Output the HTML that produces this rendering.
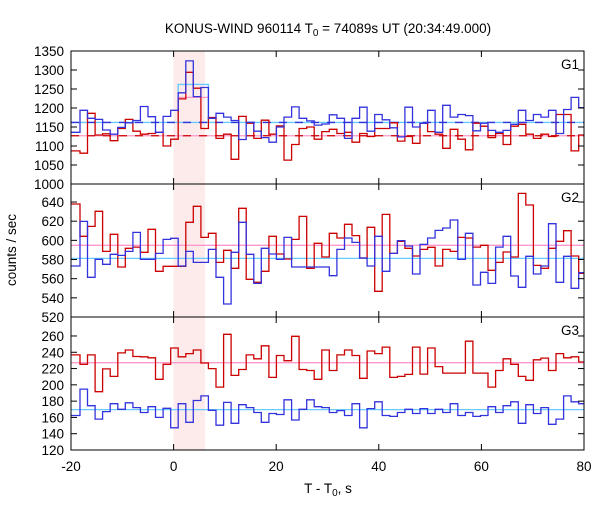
<!DOCTYPE html>
<html><head><meta charset="utf-8"><style>
body{margin:0;background:#fff;font-family:"Liberation Sans",sans-serif}
svg text{font-family:"Liberation Sans",sans-serif;font-size:13.5px;fill:#000}
</style></head><body>
<svg id="c" width="600" height="500"></svg>
<script>
const g1Blue=[1136,1194,1173,1170,1142,1131,1149,1161,1167,1204,1177,1136,1178,1194,1240,1324,1230,1254,1173,1186,1176,1167,1117,1162,1139,1122,1110,1150,1176,1203,1173,1166,1155,1158,1182,
1173,1120,1173,1202,1139,1183,1169,1148,1124,1202,1150,1160,1194,1136,1207,1176,1183,1180,1140,1160,1141,1136,1141,1157,1194,1167,1183,1176,1194,1133,1196,1228,1201];
const g1Red=[1087,1081,1186,1129,1132,1114,1146,1170,1139,1131,1133,1136,1100,1118,1224,1294,1252,1146,1175,1120,1131,1065,1178,1160,1120,1168,1131,1153,1063,1104,1146,1150,1118,1138,1144,
1133,1136,1110,1133,1125,1146,1146,1161,1113,1125,1107,1160,1138,1131,1094,1144,1118,1090,1160,1152,1122,1133,1104,1152,1157,1131,1120,1131,1125,1183,1183,1087,1129];
const g2Red=[637.9,604.2,614.6,630.3,588.5,606.3,572.2,591.7,593,587.5,611.5,567.7,572.9,572.9,572.9,618.8,635.5,603.1,607.3,577,589.6,570.8,633.4,559.3,556.2,567.7,604.2,585.7,580.5,601,625,570.8,596.9,582.6,607.3,
602.4,616.7,604.9,581.6,613.6,546.8,627.1,586.4,599,591.7,583.7,590.6,592.7,573.2,590.6,588.5,603.1,602.4,593,594.8,568.7,577,587.8,582.6,649,636.9,573.9,570.8,591.7,599,610.1,583.7,565.6];
const g2Blue=[573.2,619.8,561.4,580.2,575,585.4,584.3,588.5,608.3,580.2,580.2,586.4,601,602.1,573.2,588.5,577,577,590.6,561.4,533.6,587.5,618.8,585.4,555.1,591.7,585.7,580.2,603.1,572.2,572.2,572.2,572.2,572.2,563.1,
590.6,602.4,597.9,581.6,573.2,604.2,567.7,586.4,599.7,594.1,564.9,595.8,602.4,610.4,612.9,621.2,580.2,607.3,553.4,566.6,555.1,593,604.2,562.8,551,583.3,564.9,573.2,617.4,556.2,583.3,549.9,566.3];
const g3Red=[236.8,225.2,236.8,191.6,219.6,210.4,239.2,242.8,234.8,234.4,233.2,206.8,225.2,245.2,234.4,238.4,242.8,226.8,220,197.2,262,211.6,218.8,236.8,232,248,209.2,236,229.6,259.6,218.8,217.6,206.8,242.8,217.6,
236.8,242.8,236,208,241.6,238.4,246.4,209.2,210.4,212.8,246.4,213.2,245.2,222.4,214.4,214.4,214.4,253.6,214.4,214.4,197.2,217.6,232,225.2,210.4,205.6,230.8,232.8,217.6,238.4,233.2,234.4,228];
const g3Blue=[162.4,194.8,174.4,158,167.2,176.8,170,178,172,166,173.2,160,171.2,147.2,176.8,154,180.8,186.4,168.8,150.4,178.4,152.8,175.6,172,166,154,164.8,163.6,181.6,156.8,170,181.6,173.2,172,166,
168.4,162.4,176.8,147.2,170.8,179.2,162.4,161.2,166,170,164.8,170.8,164.8,170,166,176.8,162.4,166,161.2,162.4,173.2,166,174.4,179.2,152.8,175.6,164.8,172,151.6,158,186.4,179.2,176.8];
const xTicks=[-20,0,20,40,60,80];
const g1Ticks=[1000,1050,1100,1150,1200,1250,1300,1350];
const g2Ticks=[520,540,560,580,600,620,640];
const g3Ticks=[120,140,160,180,200,220,240,260];
const g1Levels={blueBg:1162,blueBox:1262,redBg:1127,redBox:1228};
const g2Levels={red:594.8,blue:581.2};
const g3Levels={red:227.2,blue:169.6};
const binStart=-18.25, binW=1.473, boxFrom=14, boxTo=18;

const NS="http://www.w3.org/2000/svg";
const svg=document.getElementById('c');
function el(t,a,p){const e=document.createElementNS(NS,t);for(const k in a)e.setAttribute(k,a[k]);(p||svg).appendChild(e);return e;}
const X0=71,X1=584;
const sx=v=>X0+(v+20)/100*(X1-X0);
function edge(k){if(k<=0)return -20;return Math.min(80,binStart+(k-1)*binW);}
const panels=[
 {name:'g1',top:51,bot:184,min:1000,max:1350,ticks:g1Ticks,label:'G1'},
 {name:'g2',top:184,bot:317,min:520,max:658.8,ticks:g2Ticks,label:'G2'},
 {name:'g3',top:317,bot:450,min:120,max:283.3,ticks:g3Ticks,label:'G3'}];
panels.forEach(p=>{p.sy=v=>p.bot-(v-p.min)/(p.max-p.min)*(p.bot-p.top);});

const sh=el('rect',{x:sx(0),y:51,width:sx(6.1)-sx(0),height:399,fill:'#fdeaea'});



function hline(p,v,a,b,col,name,dash){
 const l=el('line',{x1:sx(a),x2:sx(b),y1:p.sy(v),y2:p.sy(v),stroke:col,'stroke-width':1.3});
 if(dash)l.setAttribute('stroke-dasharray',dash);
 
 
}
function step(p,vals,col,name){
 let d='';
 vals.forEach((v,i)=>{const x0=sx(edge(i)),x1=sx(edge(i+1)),y=p.sy(v);
  d+=(i==0?'M':'L')+x0.toFixed(1)+','+y.toFixed(1)+'L'+x1.toFixed(1)+','+y.toFixed(1);});
 const pa=el('path',{d:d,fill:'none',stroke:col,'stroke-width':1.3});
 
 
}
const P1=panels[0],P2=panels[1],P3=panels[2];
const bx0=edge(boxFrom),bx1=edge(boxTo);
hline(P1,g1Levels.redBg,-20,80,'#ff99cc','g1-red-background');
hline(P1,g1Levels.blueBg,-20,80,'#66ccff','g1-blue-background');
hline(P1,g1Levels.redBg,-20,80,'#cc0000','g1-red-mean-dashed','8,8');
hline(P1,g1Levels.blueBg,-20,80,'#3333dd','g1-blue-mean-dashed','8,8');
const bb=el('path',{d:`M${sx(bx0)},${P1.sy(g1Levels.blueBg)}V${P1.sy(g1Levels.blueBox)}H${sx(bx1)}V${P1.sy(g1Levels.blueBg)}`,fill:'none',stroke:'#66ccff','stroke-width':1.4});


hline(P1,g1Levels.redBox,bx0,bx1,'#ff99cc','g1-red-burst-level');
step(P1,g1Red,'#cc0000','g1-red-series');
step(P1,g1Blue,'#3333dd','g1-blue-series');
hline(P2,g2Levels.red,-20,80,'#ff99cc','g2-red-background');
hline(P2,g2Levels.blue,-20,80,'#66ccff','g2-blue-background');
step(P2,g2Red,'#cc0000','g2-red-series');
step(P2,g2Blue,'#3333dd','g2-blue-series');
hline(P3,g3Levels.red,-20,80,'#ff99cc','g3-red-background');
hline(P3,g3Levels.blue,-20,80,'#66ccff','g3-blue-background');
step(P3,g3Red,'#cc0000','g3-red-series');
step(P3,g3Blue,'#3333dd','g3-blue-series');

panels.forEach(p=>{
 const r=el('rect',{x:X0,y:p.top,width:X1-X0,height:p.bot-p.top,fill:'none',stroke:'#000','stroke-width':1});
 
 
 p.ticks.forEach(t=>{const y=p.sy(t);
  el('line',{x1:X0,x2:X0+6,y1:y,y2:y,stroke:'#000'});
  el('line',{x1:X1-6,x2:X1,y1:y,y2:y,stroke:'#000'});
  const tx=el('text',{x:X0-7,y:y+5,'text-anchor':'end'});tx.textContent=t;
  
  
 });
 xTicks.forEach(t=>{const x=sx(t);
  el('line',{x1:x,x2:x,y1:p.bot,y2:p.bot-6,stroke:'#000'});
  el('line',{x1:x,x2:x,y1:p.top,y2:p.top+6,stroke:'#000'});});
 const lb=el('text',{x:579,y:p.top+18,'text-anchor':'end'});lb.textContent=p.label;
 
 
});
xTicks.forEach(t=>{const tx=el('text',{x:sx(t),y:471,'text-anchor':'middle'});tx.textContent=t;
 
 });
</script>
<svg width="600" height="500" style="position:absolute;left:0;top:0;pointer-events:none">
<text x="328" y="33" text-anchor="middle">KONUS-WIND 960114 T<tspan font-size="10" dy="3">0</tspan><tspan dy="-3"> = 74089s UT (20:34:49.000)</tspan></text>
<text x="328" y="493" text-anchor="middle">T - T<tspan font-size="10" dy="3">0</tspan><tspan dy="-3">, s</tspan></text>
<text x="16" y="250" text-anchor="middle" transform="rotate(-90 16 250)">counts / sec</text>
</svg>
</body></html>
